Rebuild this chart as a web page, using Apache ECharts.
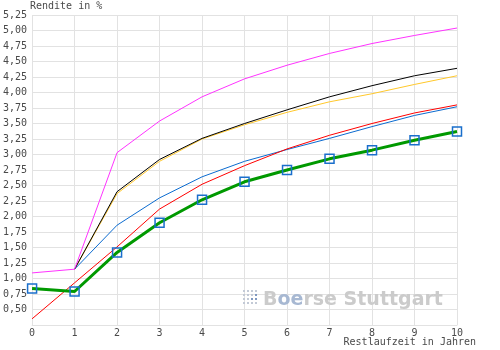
<!DOCTYPE html>
<html>
<head>
<meta charset="utf-8">
<script src="https://cdn.jsdelivr.net/npm/echarts@6/dist/echarts.min.js"></script>
<style>html,body{margin:0;padding:0;background:#fff}#c{width:500px;height:350px}</style>
</head>
<body>
<div id="c"></div>
<script>
var years = [0, 1, 2, 3, 4, 5, 6, 7, 8, 9, 10];
var pink   = [1.09, 1.15, 3.03, 3.54, 3.93, 4.22, 4.44, 4.63, 4.79, 4.92, 5.04];
var black  = [null, 1.15, 2.40, 2.92, 3.26, 3.50, 3.72, 3.93, 4.11, 4.27, 4.39];
var yellow = [null, 1.15, 2.37, 2.89, 3.25, 3.48, 3.68, 3.85, 3.98, 4.13, 4.27];
var blue   = [null, 1.15, 1.86, 2.30, 2.64, 2.89, 3.08, 3.26, 3.45, 3.63, 3.77];
var red    = [0.35, 0.93, 1.51, 2.12, 2.52, 2.82, 3.09, 3.31, 3.50, 3.67, 3.80];
var green  = [0.84, 0.79, 1.42, 1.90, 2.27, 2.56, 2.75, 2.93, 3.07, 3.23, 3.37];
var yMin = 0.25, yMax = 5.25, yStep = 0.25;

function pairs(arr) {
  return years.map(function (x, i) { return [x, arr[i]]; });
}
var FONT = '"DejaVu Sans Mono", monospace';
var TXT = '#4a4a4a';

function lineSeries(name, arr, color, width, z) {
  return {
    name: name, type: 'line', data: pairs(arr), showSymbol: false, symbol: 'none',
    lineStyle: { color: color, width: width }, itemStyle: { color: color },
    z: z, silent: true
  };
}

// logo dots
var dots = [];
for (var r = 0; r < 4; r++) {
  for (var c = 0; c < 4; c++) {
    dots.push({
      type: 'rect', shape: { x: 243 + c * 4, y: 290 + r * 4, width: 2, height: 2 },
      style: { fill: (r === 2 && c > 1) || (r === 1 && c === 3) ? '#7f98c0' : '#c3cad6' }, z: 1
    });
  }
}

var chart = echarts.init(document.getElementById('c'), null, { renderer: 'canvas' });
chart.setOption({
  animation: false,
  backgroundColor: '#fff',
  grid: { left: 30, right: 43, top: 15, bottom: 25, containLabel: false },
  graphic: dots.concat([
    {
      type: 'text', left: 263, top: 291, z: 1,
      style: {
        text: '{g|B}{b|oe}{g|rse Stuttgart}',
        rich: {
          g: { fill: '#cbcbcb', font: 'bold 19px "DejaVu Sans"' },
          b: { fill: '#a7b8d2', font: 'bold 19px "DejaVu Sans"' }
        }
      }
    },
    {
      type: 'text', left: 30, top: 1,
      style: { text: 'Rendite in %', fill: TXT, font: '10px ' + FONT }
    },
    {
      type: 'text', right: 24, top: 337,
      style: { text: 'Restlaufzeit in Jahren', fill: TXT, font: '10px ' + FONT }
    }
  ]),
  xAxis: {
    type: 'value', min: 0, max: 10, interval: 1,
    axisLine: { show: true, lineStyle: { color: '#e2e2e2', width: 1 } },
    axisTick: { show: false },
    splitLine: { show: true, lineStyle: { color: '#e2e2e2', width: 1 } },
    axisLabel: { color: TXT, fontFamily: FONT, fontSize: 10, margin: 3 }
  },
  yAxis: {
    type: 'value', min: yMin, max: yMax, interval: yStep,
    axisLine: { show: false },
    axisTick: { show: false },
    splitLine: { show: true, lineStyle: { color: '#e2e2e2', width: 1 } },
    axisLabel: {
      color: TXT, fontFamily: FONT, fontSize: 10, margin: 5,
      formatter: function (v) { return v <= yMin + 1e-9 ? '' : v.toFixed(2).replace('.', ','); }
    }
  },
  series: [
    lineSeries('yellow', yellow, '#ffc82a', 1, 2),
    lineSeries('black', black, '#000000', 1, 3),
    lineSeries('blue', blue, '#0b6bd0', 1, 2),
    lineSeries('red', red, '#ff0000', 1, 3),
    lineSeries('pink', pink, '#ff33ff', 1, 4),
    {
      name: 'green', type: 'line', data: pairs(green), z: 5,
      lineStyle: { color: '#009900', width: 3 },
      symbol: 'rect', symbolSize: 9, showSymbol: true,
      itemStyle: { color: 'rgba(0,0,0,0)', borderColor: '#1a6fcc', borderWidth: 1.5 }
    }
  ]
});
</script>
</body>
</html>
